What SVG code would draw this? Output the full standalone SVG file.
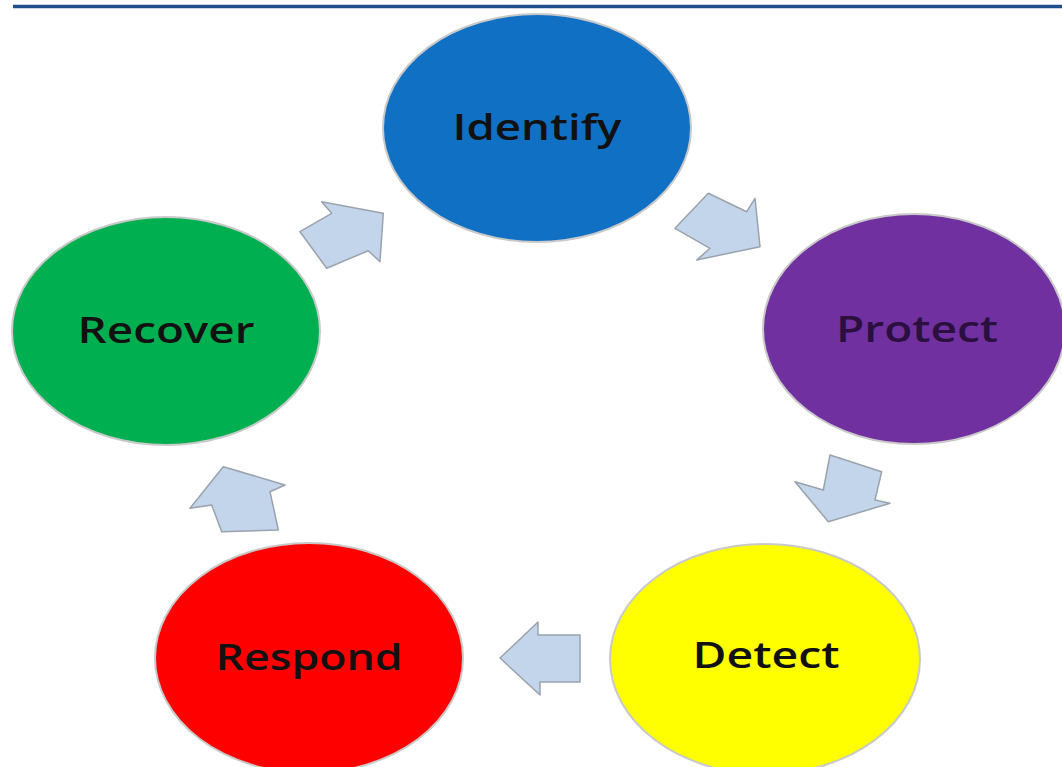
<svg xmlns="http://www.w3.org/2000/svg" width="1062" height="767" viewBox="0 0 1062 767">
<style>
.node ellipse{stroke:#c9c9c9;stroke-width:2}
.node text{font-family:"Open Sans","Liberation Sans",sans-serif;font-size:36px;font-weight:600;fill:#111;text-anchor:middle}
.arrow{fill:#c3d5ea;stroke:#9aa3ad;stroke-width:1.5;stroke-linejoin:round}
</style>
<rect width="1062" height="767" fill="#ffffff"/>
<line x1="13" y1="6.5" x2="1062" y2="6.5" stroke="#1f4e8f" stroke-width="3.5"/>
<g id="identify" class="node">
<ellipse cx="537" cy="128" rx="154" ry="114" fill="#1070c4"/>
<text x="537" y="140" textLength="169" lengthAdjust="spacingAndGlyphs">Identify</text>
</g>
<g id="protect" class="node">
<ellipse cx="914" cy="329" rx="151" ry="115" fill="#7030a0"/>
<text x="917" y="342" textLength="162" lengthAdjust="spacingAndGlyphs" style="fill:#2a0f3f">Protect</text>
</g>
<g id="detect" class="node">
<ellipse cx="765" cy="659" rx="155" ry="115" fill="#ffff00"/>
<text x="766" y="668" textLength="147" lengthAdjust="spacingAndGlyphs">Detect</text>
</g>
<g id="respond" class="node">
<ellipse cx="309" cy="658" rx="154" ry="115" fill="#ff0000"/>
<text x="309" y="670" textLength="187" lengthAdjust="spacingAndGlyphs">Respond</text>
</g>
<g id="recover" class="node">
<ellipse cx="166" cy="331" rx="154" ry="114" fill="#00b050"/>
<text x="166" y="343" textLength="177" lengthAdjust="spacingAndGlyphs">Recover</text>
</g>
<g id="connectors">
<polygon class="arrow" points="383.3,213.3 380,261.7 368.3,250.7 326.7,268.3 300,231.7 331.7,213.3 321.7,201.7"/>
<polygon class="arrow" points="708.3,193.3 746.7,211.7 755,198.3 760,246.7 696.7,260 710,248.3 675,228.3"/>
<polygon class="arrow" points="795,481.7 823.3,490 830,455 881.7,471.7 875,500 890,503.3 828.3,521.7"/>
<polygon class="arrow" points="500,658 538,622 538,635 580,635 580,682 540,682 540,695"/>
<polygon class="arrow" points="223.3,466.7 285,485 270,491.7 278.3,530 221.7,531.7 211.7,505 190,508.3"/>
</g>
</svg>
